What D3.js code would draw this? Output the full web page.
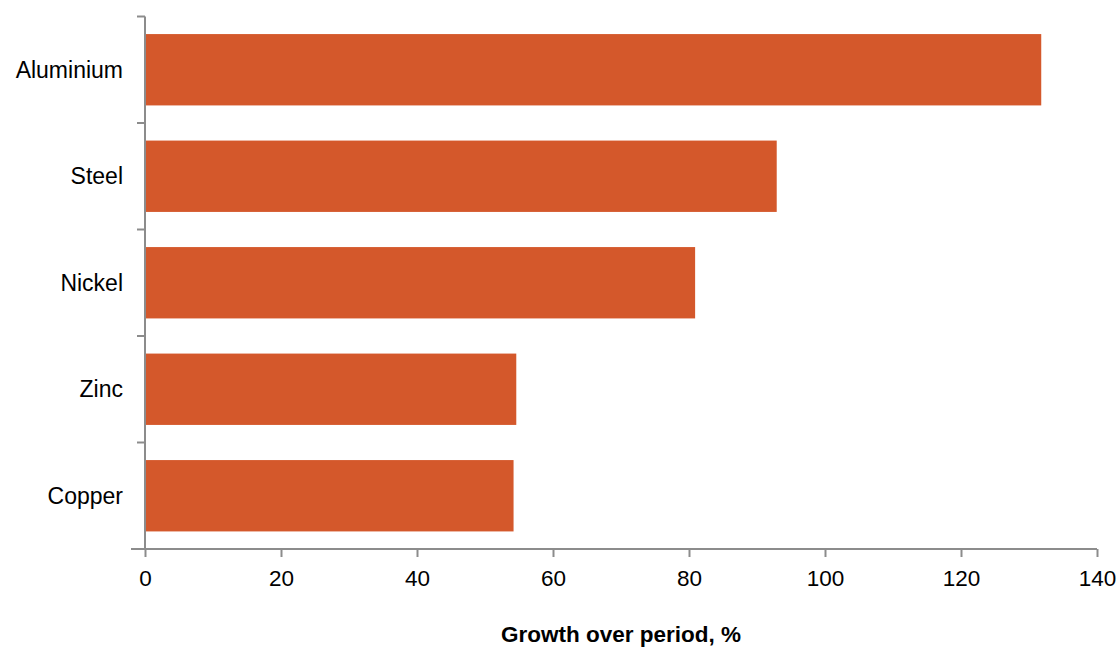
<!DOCTYPE html>
<html>
<head>
<meta charset="utf-8">
<script src="https://cdn.jsdelivr.net/npm/d3@7"></script>
<style>
  body { margin: 0; background: #fff; }
  svg { display: block; font-family: "Liberation Sans", Arial, sans-serif; }
</style>
</head>
<body>
<svg width="1117" height="648"></svg>
<script>
var categories = ["Aluminium", "Steel", "Nickel", "Zinc", "Copper"];
var values = [131.8, 92.9, 80.9, 54.6, 54.2];
var xTicks = [0, 20, 40, 60, 80, 100, 120, 140];
var xTitle = "Growth over period, %";

var svg = d3.select("svg");
var margin = {top: 16.5, right: 20, bottom: 99, left: 145};
var width = 1097 - margin.left;
var height = 549 - margin.top;

var g = svg.append("g").attr("transform", "translate(" + margin.left + "," + margin.top + ")");

var x = d3.scaleLinear().domain([0, 140]).range([0, width]);
var y = d3.scaleBand().domain(categories).range([0, height]).paddingInner(0.33).paddingOuter(0.165);

// bars
g.selectAll(".bar")
    .data(categories)
    .enter().append("rect")
    .attr("class", "bar")
    .attr("x", 0)
    .attr("y", function(d) { return y(d); })
    .attr("width", function(d, i) { return x(values[i]); })
    .attr("height", y.bandwidth())
    .attr("fill", "#d4582b");

var axisColor = "#8c8c8c";

// y axis: line plus ticks at band boundaries
g.append("line")
    .attr("x1", 0).attr("x2", 0)
    .attr("y1", 0).attr("y2", height)
    .attr("stroke", axisColor).attr("stroke-width", 2);

var step = height / categories.length;
d3.range(categories.length + 1).forEach(function(i) {
    g.append("line")
        .attr("x1", -8).attr("x2", 0)
        .attr("y1", i * step).attr("y2", i * step)
        .attr("stroke", axisColor).attr("stroke-width", 2);
});

g.selectAll(".ylab")
    .data(categories)
    .enter().append("text")
    .attr("class", "ylab")
    .attr("x", -22)
    .attr("y", function(d) { return y(d) + y.bandwidth() / 2; })
    .attr("dy", "0.35em")
    .attr("text-anchor", "end")
    .attr("font-size", 23)
    .attr("fill", "#000")
    .text(function(d) { return d; });

// x axis
var xAxis = g.append("g")
    .attr("transform", "translate(0," + height + ")")
    .call(d3.axisBottom(x).tickValues(xTicks).tickSize(8).tickPadding(13).tickSizeOuter(0));

xAxis.select(".domain").attr("stroke", axisColor).attr("stroke-width", 2).attr("d", "M-14,0H" + width);
xAxis.selectAll(".tick line").attr("stroke", axisColor).attr("stroke-width", 2);
xAxis.selectAll(".tick text")
    .attr("font-size", 22.5)
    .attr("font-family", "Liberation Sans, Arial, sans-serif")
    .attr("fill", "#000");

svg.append("text")
    .attr("x", 621)
    .attr("y", 642)
    .attr("text-anchor", "middle")
    .attr("font-size", 22.5)
    .attr("font-weight", "bold")
    .attr("fill", "#000")
    .text(xTitle);
</script>
</body>
</html>
